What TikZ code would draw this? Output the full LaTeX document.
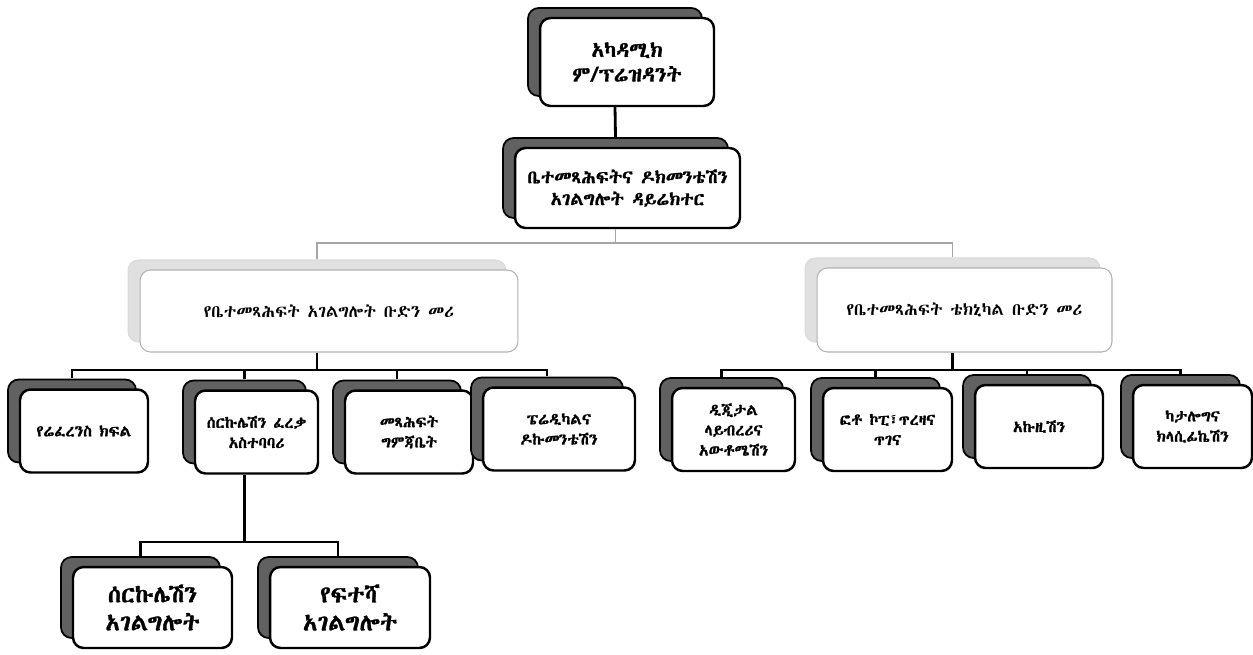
\documentclass[tikz,border=0pt]{standalone}
\usepackage{fontspec}
\usetikzlibrary{shadows}
\IfFontExistsTF{Abyssinica SIL}{\newfontfamily\geez[AutoFakeBold=1.2]{Abyssinica SIL}}{%
  \IfFontExistsTF{FreeSerif.otf}{\newfontfamily\geez[AutoFakeBold=1.2]{FreeSerif.otf}}{%
    \newfontfamily\geez{DejaVu Sans}}}
\tikzset{
  box/.style={rounded corners=6pt, fill=white, align=center, inner sep=2pt},
  card/.style={box, draw=black, line width=1.4pt,
    copy shadow={shadow xshift=-0.24cm, shadow yshift=0.2cm, fill=black!62, draw=black, line width=1pt}},
  faint/.style={box, draw=black!30, line width=0.6pt,
    copy shadow={shadow xshift=-0.24cm, shadow yshift=0.2cm, fill=black!12, draw=black!15, line width=0.6pt}},
  unit/.style={card, minimum height=1.66cm, font=\geez\bfseries\fontsize{9}{11.5}\selectfont},
  link/.style={draw=black, line width=1.6pt},
  faintlink/.style={draw=black!35, line width=0.7pt}
}

\begin{document}
\begin{tikzpicture}[x=0.02cm, y=-0.02cm]
    \useasboundingbox (0,0) rectangle (1253,654);
    % head
    \node[card, minimum width=3.48cm, minimum height=1.76cm, font=\geez\bfseries\fontsize{12}{14}\selectfont] (top) at (627,62) {አካዳሚክ\\ም/ፕሬዝዳንት};
    \node[card, minimum width=4.5cm, minimum height=1.6cm, font=\geez\bfseries\fontsize{10.5}{12.5}\selectfont] (dir) at (627.5,188) {ቤተመጻሕፍትና ዶክመንቴሽን\\አገልግሎት ዳይሬክተር};
    % team leaders
    \node[faint, minimum width=7.56cm, minimum height=1.64cm, font=\geez\fontsize{9.8}{12}\selectfont] (svc) at (329,311) {የቤተመጻሕፍት አገልግሎት ቡድን መሪ};
    \node[faint, minimum width=5.9cm, minimum height=1.68cm, font=\geez\fontsize{9.8}{12}\selectfont] (tech) at (964.5,310) {የቤተመጻሕፍት ቴክኒካል ቡድን መሪ};
    % units
    \node[unit, minimum width=2.56cm] (ref) at (84,431) {የሬፈረንስ ክፍል};
    \node[unit, minimum width=2.46cm] (circ) at (256.5,432) {ሰርኩሌሽን ፈረቃ\\አስተባባሪ};
    \node[unit, minimum width=2.56cm] (store) at (409,432) {መጻሕፍት\\ግምጃቤት};
    \node[unit, minimum width=3.04cm] (peri) at (559,429) {ፔሬዲካልና\\ዶኩመንቴሽን};
    \node[unit, minimum width=2.46cm] (digi) at (733.5,429.5) {ዲጂታል\\ላይብረሪና\\አውቶሜሽን};
    \node[unit, minimum width=2.58cm] (photo) at (887.5,429.5) {ፎቶ ኮፒ፣ጥረዛና\\ጥገና};
    \node[unit, minimum width=2.56cm] (acq) at (1039,426.5) {አኩዚሽን};
    \node[unit, minimum width=2.38cm] (cat) at (1192.5,426.5) {ካታሎግና\\ክላሲፊኬሽን};
    % circulation
    \node[card, minimum width=3.18cm, minimum height=1.62cm, font=\geez\bfseries\fontsize{13.5}{16}\selectfont] (circsvc) at (152.5,607.5) {ሰርኩሌሽን\\አገልግሎት};
    \node[card, minimum width=3.2cm, minimum height=1.62cm, font=\geez\bfseries\fontsize{13.5}{16}\selectfont] (insp) at (350,607.5) {የፍተሻ\\አገልግሎት};

    \foreach \n in {top,dir,svc,tech,ref,circ,store,peri,digi,photo,acq,cat,circsvc,insp} {
      \coordinate (\n-t) at ([shift={(-0.24cm,0.2cm)}]\n.north);
      \coordinate (\n-b) at ([xshift=-0.24cm]\n.south);
    }
    \coordinate (mainbar) at (616,243);
    \coordinate (svcbar) at (318,370);
    \coordinate (techbar) at (951,370);
    \coordinate (circbar) at (243,542);

    \draw[link] (top-b) -- (dir-t);
    \draw[faintlink] (dir-b) -- (dir-b |- mainbar);
    \draw[faintlink] (svc-t) |- (mainbar) -| (tech-t);
    \draw[link] (svc-b) -- (svc-b |- svcbar);
    \draw[link] (ref-t) |- (svcbar) -| (peri-t);
    \draw[link] (circ-t) -- (circ-t |- svcbar);
    \draw[link] (store-t) -- (store-t |- svcbar);
    \draw[link] (tech-b) -- (tech-b |- techbar);
    \draw[link] (digi-t) |- (techbar) -| (cat-t);
    \draw[link] (photo-t) -- (photo-t |- techbar);
    \draw[link] (acq-t) -- (acq-t |- techbar);
    \draw[link] (circ-b) -- (circ-b |- circbar);
    \draw[link] (circsvc-t) |- (circbar) -| (insp-t);
  \end{tikzpicture}
\end{document}
